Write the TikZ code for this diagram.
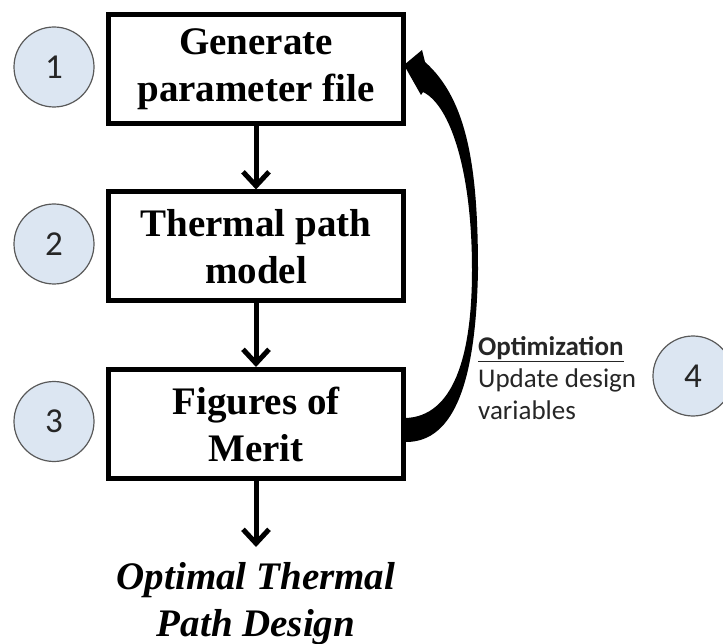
\documentclass[tikz,border=0pt]{standalone}
\usepackage{fontspec}
\setmainfont{Liberation Serif}
\newfontfamily\calibri{Carlito}
\usetikzlibrary{arrows.meta,calc}
\definecolor{numfill}{HTML}{DCE6F2}

\begin{document}
\begin{tikzpicture}
  [x=1pt,y=-1pt,
   stepbox/.style={draw,line width=5pt,minimum width=295pt,minimum height=109pt,
     inner sep=0pt,align=center,font=\fontsize{39}{47}\selectfont\bfseries},
   num/.style={circle,draw=black!65,line width=1.2pt,fill=numfill,minimum size=80pt,
     inner sep=0pt,text=black!85,font=\calibri\fontsize{35}{40}\selectfont},
   flow/.style={line width=5pt,-{Straight Barb[length=14pt,width=26pt]}}]
  \useasboundingbox (0,0) rectangle (723,644);

  % steps
  \node[stepbox] (gen)   at (256,69.5)  {Generate\\parameter file};
  \node[stepbox] (model) at (256,246.5) {Thermal path\\model};
  \node[stepbox] (fom)   at (256,424)   {Figures of\\Merit};
  \coordinate (res) at (256,547);
  \node[inner sep=0pt,align=center,font=\fontsize{39}{47}\selectfont\bfseries\itshape]
    (out) at (256,604) {Optimal Thermal\\Path Design};

  % numbers
  \node[num] (n1) at (54,67)    {1};
  \node[num] (n2) at (54,244)   {2};
  \node[num] (n3) at (54,421.5) {3};
  \node[num] (n4) at (693,376)  {4};

  \node[anchor=north west,inner sep=0pt,align=left,text=black!85,
    font=\calibri\fontsize{27}{32}\selectfont]
    (opt) at (478,336) {\textbf{\underline{Optimization}}\\Update design\\variables};

  \foreach \from/\to in {gen/model,model/fom,fom/res}
    \draw[flow] (\from) -- (\to);

  % feedback loop
  \fill ($(fom.east)+(0,18)$) .. controls (455,442) and (476,380) .. (478,270)
    .. controls (478,170) and (468,100) .. (425,62)
    -- (422,50) -- ($(gen.east)+(-2,-4.5)$) -- (421,95) -- (423,92)
    .. controls (450,105) and (472,170) .. (472,270)
    .. controls (472,360) and (452,416) .. ($(fom.east)+(0,-6)$) -- cycle;
\end{tikzpicture}
\end{document}
